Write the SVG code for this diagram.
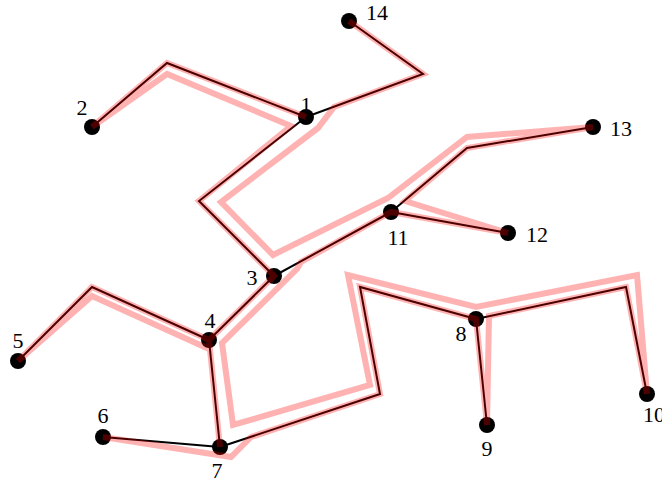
<svg xmlns="http://www.w3.org/2000/svg" width="662" height="484" viewBox="0 0 662 484">
<style>
.e{fill:none;stroke:#000;stroke-width:2;stroke-linejoin:miter}
.n{fill:#000}
.t{font-family:"Liberation Serif","Times New Roman",serif;font-size:22px;fill:#000;text-anchor:middle}
.r{fill:none;stroke:#ff0000;stroke-opacity:0.3;stroke-width:6;stroke-linejoin:miter;stroke-linecap:butt}
</style>
<rect width="662" height="484" fill="#fff"/>
<g id="connectors">
<polyline class="e" points="92,127 167,63 306,117"/>
<polyline class="e" points="349,21 423,74 306,117"/>
<polyline class="e" points="306,117 199,201 274,276"/>
<polyline class="e" points="274,276 391,212"/>
<polyline class="e" points="274,276 209,340"/>
<polyline class="e" points="209,340 92,287 18,361"/>
<polyline class="e" points="209,340 220,447"/>
<polyline class="e" points="220,447 103,437"/>
<polyline class="e" points="220,447 380,394 360,287 476,319"/>
<polyline class="e" points="476,319 487,425"/>
<polyline class="e" points="476,319 626,287 647,394"/>
<polyline class="e" points="391,212 508,233"/>
<polyline class="e" points="391,212 467,148 593,127"/>
</g>
<g id="node1"><circle class="n" cx="306" cy="117" r="8"/><text class="t" x="306" y="112">1</text></g>
<g id="node2"><circle class="n" cx="92" cy="127" r="8"/><text class="t" x="82" y="115">2</text></g>
<g id="node3"><circle class="n" cx="274" cy="276" r="8"/><text class="t" x="252" y="285">3</text></g>
<g id="node4"><circle class="n" cx="209" cy="340" r="8"/><text class="t" x="210" y="328">4</text></g>
<g id="node5"><circle class="n" cx="18" cy="361" r="8"/><text class="t" x="18" y="348">5</text></g>
<g id="node6"><circle class="n" cx="103" cy="437" r="8"/><text class="t" x="103" y="423">6</text></g>
<g id="node7"><circle class="n" cx="220" cy="447" r="8"/><text class="t" x="217" y="478">7</text></g>
<g id="node8"><circle class="n" cx="476" cy="319" r="8"/><text class="t" x="461" y="341">8</text></g>
<g id="node9"><circle class="n" cx="487" cy="425" r="8"/><text class="t" x="487" y="456">9</text></g>
<g id="node10"><circle class="n" cx="647" cy="394" r="8"/><text class="t" x="654" y="422">10</text></g>
<g id="node11"><circle class="n" cx="391" cy="212" r="8"/><text class="t" x="398" y="245">11</text></g>
<g id="node12"><circle class="n" cx="508" cy="233" r="8"/><text class="t" x="537" y="242">12</text></g>
<g id="node13"><circle class="n" cx="593" cy="127" r="8"/><text class="t" x="621" y="136">13</text></g>
<g id="node14"><circle class="n" cx="349" cy="21" r="8"/><text class="t" x="377" y="20">14</text></g>
<g id="routes">
<path class="r" d="M92,127 L167,63 L306,117
M92,127 L167,74 L291,126 L199,201 L274,276 L209,340 L220,447
M18,361 L92,287 L209,340
M18,361 L92,296 L209,349
M103,437 L231,457 L251,437 L380,394 L360,287 L476,319 L487,425
M487,425 L489,316 L626,287 L647,394
M647,394 L637,275 L476,307 L348,275 L370,385 L233,425 L222,343 L297,269 L301,262 L391,212 L508,233
M508,233 L405,201 L467,148 L593,127
M349,21 L423,74 L334,107 L318,128 L221,202 L273,255 L388,198 L467,137 L593,127"/>
</g>
</svg>
